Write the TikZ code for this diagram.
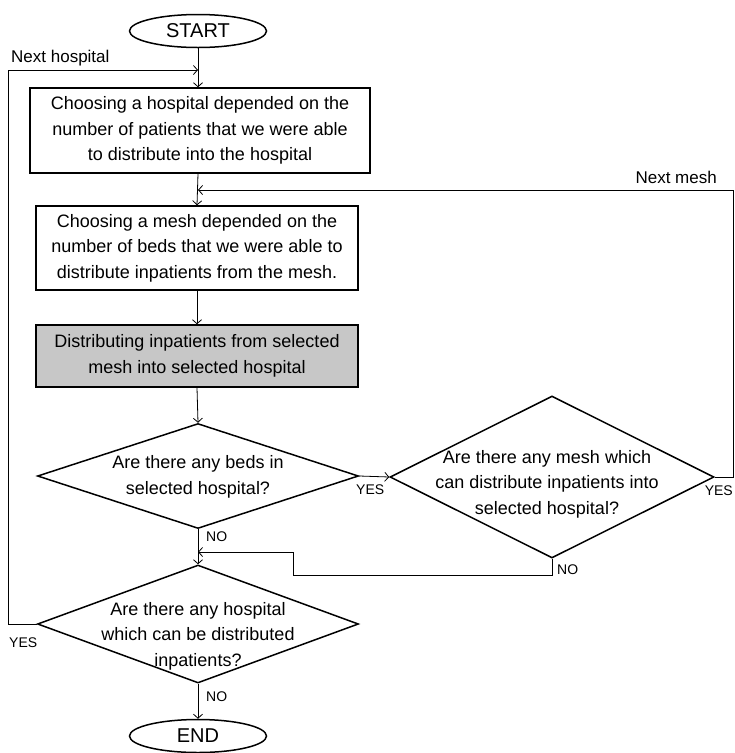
\documentclass[tikz,border=0pt]{standalone}
\usepackage{fontspec}
\setmainfont{Liberation Sans}
\usetikzlibrary{shapes.geometric,arrows.meta}

\begin{document}
\begin{tikzpicture}[x=1pt,y=-1pt,
  every node/.style={font=\fontsize{18}{25.5}\selectfont},
  terminal/.style={ellipse,draw,line width=1.5pt,minimum width=137pt,minimum height=33pt,inner sep=0pt,font=\fontsize{20}{24}\selectfont},
  flowbox/.style={rectangle,draw,line width=1.5pt,align=center,inner sep=0pt},
  decision/.style={diamond,draw,line width=1.5pt,inner sep=0pt},
  qtext/.style={align=center,inner sep=0pt},
  small/.style={font=\fontsize{14}{16}\selectfont,inner sep=1pt},
  side/.style={font=\fontsize{17}{19}\selectfont,inner sep=1pt},
  flow/.style={line width=0.8pt,-{Straight Barb[length=4pt,width=9pt]}}
]
% Parameters
\def\mainX{198};
\def\leftX{8};
\def\rightX{733};
\def\hospY{70};
\def\meshY{190};
\def\backX{293};
\def\backY{552};
\def\lowY{575};

\useasboundingbox (0,0) rectangle (735,753);

% Terminals
\node[terminal] (start) at (\mainX,31) {START};
\node[terminal] (end) at (\mainX,736) {END};

% Process boxes
\node[flowbox,minimum width=340pt,minimum height=85pt] (hosp) at (200,130.5)
  {Choosing a hospital depended on the\\number of patients that we were able\\to distribute into the hospital};
\node[flowbox,minimum width=322pt,minimum height=84pt] (mesh) at (197,248)
  {Choosing a mesh depended on the\\number of beds that we were able to\\distribute inpatients from the mesh.};
\node[flowbox,minimum width=322pt,minimum height=62pt,fill=black!22] (dist) at (197,356)
  {Distributing inpatients from selected\\mesh into selected hospital};

% Decisions
\node[decision,minimum width=321pt,minimum height=105pt] (beds) at (\mainX,476) {};
\node[qtext] (bedsq) at (\mainX,477) {Are there any beds in\\selected hospital?};
\node[decision,minimum width=324pt,minimum height=162pt] (anymesh) at (552,477) {};
\node[qtext] (anymeshq) at (547,484) {Are there any mesh which\\can distribute inpatients into\\selected hospital?};
\node[decision,minimum width=321pt,minimum height=118pt] (anyhosp) at (\mainX,624) {};
\node[qtext] (anyhospq) at (\mainX,636) {Are there any hospital\\which can be distributed\\inpatients?};

% Corner points
\coordinate (hospin) at (\mainX,\hospY);
\coordinate (lefttop) at (\leftX,\hospY);
\coordinate (meshin) at (\mainX,\meshY);
\coordinate (righttop) at (\rightX,\meshY);
\coordinate (backin) at (\mainX,\backY);
\coordinate (backcorner) at (\backX,\lowY);

% Arrows
\draw[flow] (start.south) -- (start.south |- hosp.north);
\draw[flow] (start.south |- hosp.south) -- (mesh.north);
\draw[flow] (mesh.south) -- (dist.north);
\draw[flow] (dist.south) -- (beds.north);
\draw[flow] (beds.south) -- (anyhosp.north);
\draw[flow] (anyhosp.south) -- (end.north);
\draw[flow] (beds.east) -- (anymesh.west);
\draw[flow] (anymesh.east) -| (righttop) -- (meshin);
\draw[flow] (anymesh.south) |- (backcorner) |- (backin);
\draw[flow] (anyhosp.west) -| (lefttop) -- (hospin);

% Labels
\node[side,anchor=west] (hosplbl) at (10,58) {Next hospital};
\node[side,anchor=east] (meshlbl) at (718,177) {Next mesh};
\node[small,anchor=west] (yesbeds) at (355,490) {YES};
\node[small,anchor=east] (yesmesh) at (734,491) {YES};
\node[small,anchor=west] (yeshosp) at (8,643) {YES};
\node[small,anchor=west] (nobeds) at (205,537) {NO};
\node[small,anchor=west] (nomesh) at (556,570) {NO};
\node[small,anchor=west] (nohosp) at (205,697) {NO};

\end{tikzpicture}
\end{document}
